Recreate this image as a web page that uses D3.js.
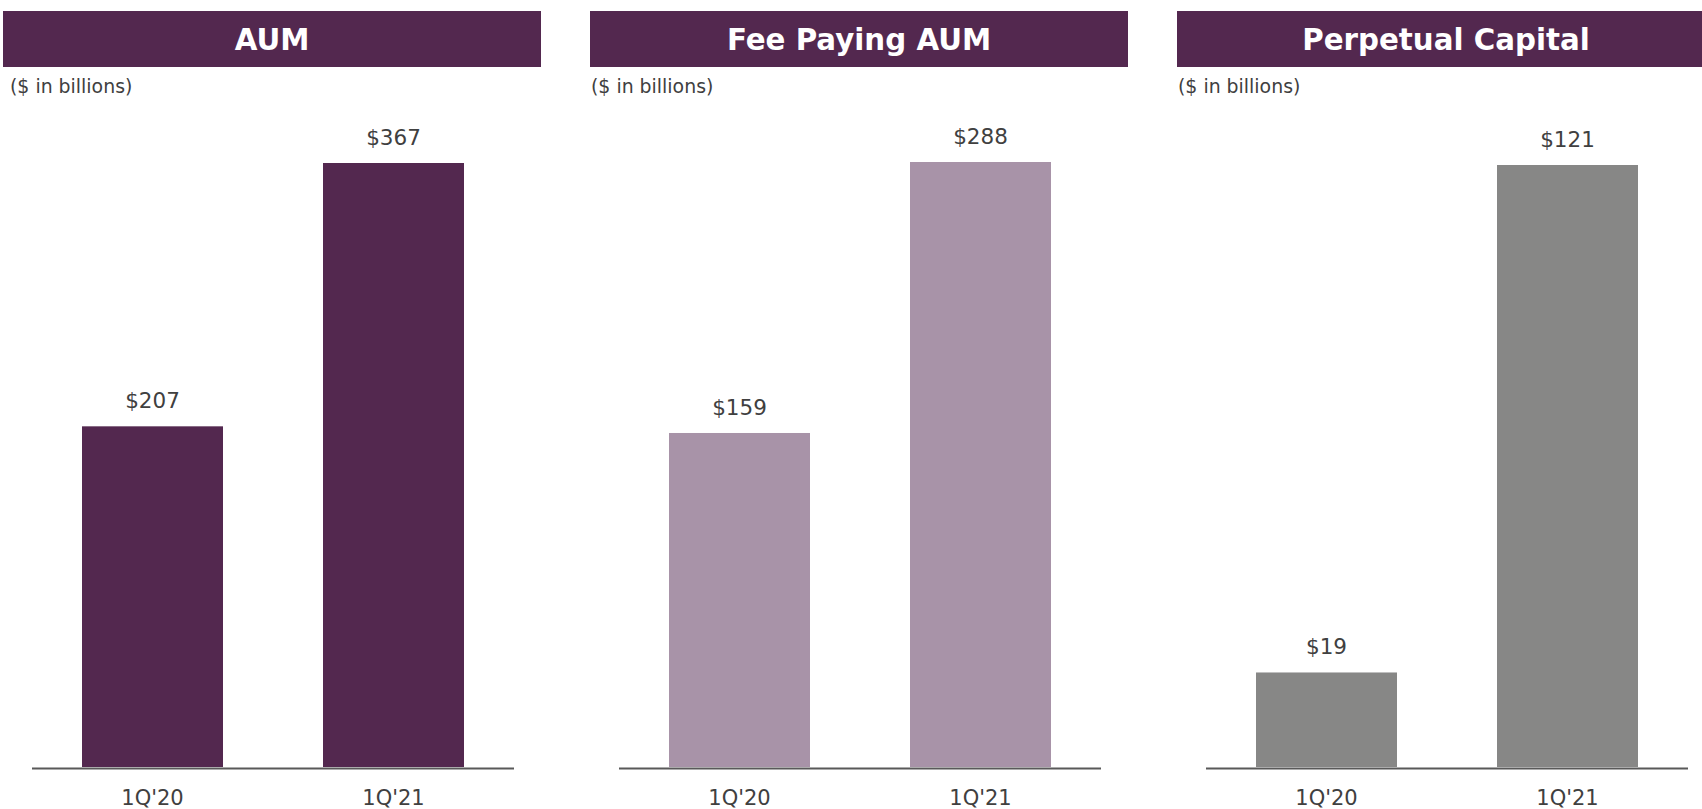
<!DOCTYPE html>
<html>
<head>
<meta charset="utf-8">
<script src="https://cdn.jsdelivr.net/npm/d3@7"></script>
<style>
  html, body { margin: 0; padding: 0; background: #ffffff; overflow: hidden; }
  svg { display: block; font-family: "DejaVu Sans", Verdana, sans-serif; }
</style>
</head>
<body>
<div id="chart"></div>
<script>
// data
const categories = ["1Q'20", "1Q'21"];
const titles = ["AUM", "Fee Paying AUM", "Perpetual Capital"];
const aumValues = [207, 367];
const feePayingValues = [159, 288];
const perpetualValues = [19, 121];
const subtitle = "($ in billions)";

const seriesValues = [aumValues, feePayingValues, perpetualValues];
const barColors = ["#53284f", "#a893a8", "#878786"];
const topPositions = [163, 162, 165];

const width = 1702, height = 809;
const header_color = "#53284f";
const text_color = "#404040";
const panel_step = 587;
const panel_width = 538;
const header_top = 11, header_height = 56;
const axis_left = 29, axis_width = 482;
const baseline = 767;

const svg = d3.select("#chart")
  .append("svg")
  .attr("width", width)
  .attr("height", height);

titles.forEach((title, i) => {
  const values = seriesValues[i];
  const g = svg.append("g")
    .attr("transform", "translate(" + (3 + i * panel_step) + ",0)");

  // header bar
  g.append("rect")
    .attr("x", 0)
    .attr("y", header_top)
    .attr("width", panel_width)
    .attr("height", header_height)
    .attr("fill", header_color);
  g.append("text")
    .attr("x", panel_width / 2)
    .attr("y", 50)
    .attr("text-anchor", "middle")
    .attr("fill", "#ffffff")
    .style("font-size", "29.3px")
    .style("font-weight", "bold")
    .text(title);

  g.append("text")
    .attr("x", i == 0 ? 7 : 1)
    .attr("y", 93)
    .attr("fill", text_color)
    .style("font-size", "18.9px")
    .text(subtitle);

  // scales
  const x = d3.scaleBand()
    .domain(categories)
    .range([axis_left, axis_left + axis_width])
    .paddingInner(0.415)
    .paddingOuter(0.2075);
  const y = d3.scaleLinear()
    .domain([0, d3.max(values)])
    .range([baseline, topPositions[i]]);

  const data = categories.map((c, j) => ({cat: c, value: values[j]}));

  g.selectAll(".bar")
    .data(data)
    .enter()
    .append("rect")
      .classed("bar", true)
      .attr("x", d => x(d.cat))
      .attr("y", d => y(d.value))
      .attr("width", x.bandwidth())
      .attr("height", d => y(0) - y(d.value))
      .attr("fill", barColors[i]);

  g.selectAll(".value-label")
    .data(data)
    .enter()
    .append("text")
      .classed("value-label", true)
      .attr("x", d => x(d.cat) + x.bandwidth() / 2)
      .attr("y", d => y(d.value) - 18)
      .attr("text-anchor", "middle")
      .attr("fill", text_color)
      .style("font-size", "21.5px")
      .text(d => "$" + d.value);

  // bottom axis: line + category labels only
  const axis = g.append("g")
    .attr("transform", "translate(0," + (baseline + 1.5) + ")")
    .call(d3.axisBottom(x).tickSize(0).tickPadding(22));
  axis.select(".domain")
    .attr("d", "M" + axis_left + ",0H" + (axis_left + axis_width))
    .attr("stroke", "#595959")
    .attr("stroke-width", 2);
  axis.selectAll(".tick text")
    .attr("fill", text_color)
    .style("font-size", "21px")
    .style("font-family", "'DejaVu Sans', Verdana, sans-serif");
});
</script>
</body>
</html>
